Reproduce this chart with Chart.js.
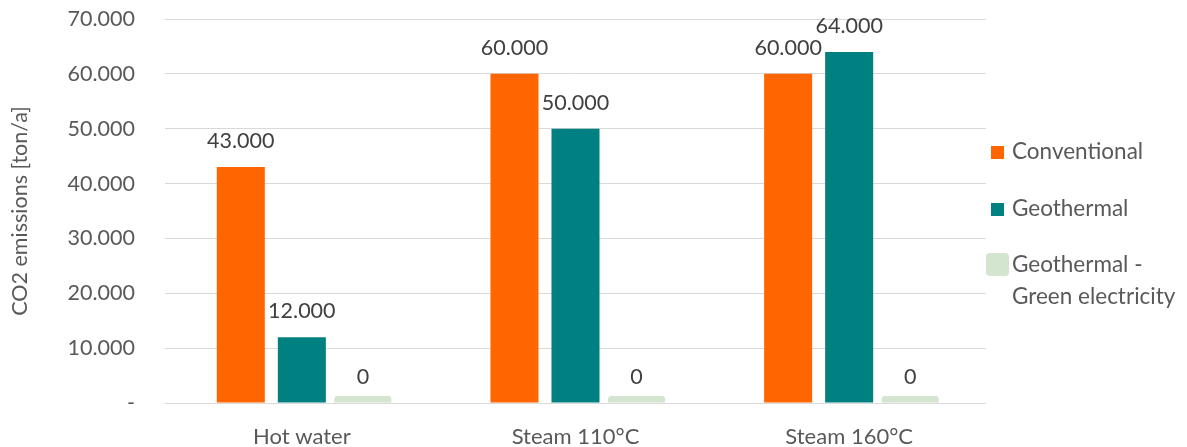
<!DOCTYPE html>
<html>
<head>
<meta charset="utf-8">
<script src="https://cdn.jsdelivr.net/npm/chart.js@4/dist/chart.umd.min.js"></script>
<style>
  html, body { margin: 0; padding: 0; background: #ffffff; }
  #wrap { width: 1187px; height: 447px; position: relative; }
</style>
</head>
<body>
<div id="wrap"><canvas id="chart" width="1187" height="447"></canvas></div>
<script>
// Categories and series (tonnes of CO2 per year)
const categories = ['Hot water', 'Steam 110°C', 'Steam 160°C'];
const seriesNames = ['Conventional', 'Geothermal', 'Geothermal - Green electricity'];
const conventional = [43000, 60000, 60000];
const geothermal = [12000, 50000, 64000];
const geothermalGreen = [0, 0, 0];
const yAxisTitle = 'CO2 emissions [ton/a]';
const yMax = 70000;
const yStep = 10000;

const FONT = 'Lato, "Open Sans", sans-serif';
const colors = ['#FF6600', '#008080', '#D3E4CF'];
const textColor = '#595959';

// Thousands separated with a dot
function fmt(v) {
  return String(Math.round(v)).replace(/\B(?=(\d{3})+(?!\d))/g, '.');
}

// Value labels above every bar
const valueLabels = {
  id: 'valueLabels',
  afterDatasetsDraw(chart) {
    const ctx = chart.ctx;
    const y = chart.scales.y;
    ctx.save();
    ctx.font = '21.5px ' + FONT;
    ctx.fillStyle = '#404040';
    ctx.textAlign = 'center';
    ctx.textBaseline = 'middle';
    chart.data.datasets.forEach((ds, i) => {
      const meta = chart.getDatasetMeta(i);
      meta.data.forEach((bar, j) => {
        const v = ds.data[j];
        ctx.fillText(fmt(v), bar.x, y.getPixelForValue(v) - 26);
      });
    });
    ctx.restore();
  }
};

// Legend on the right, one entry per series
const sideLegend = {
  id: 'sideLegend',
  afterDraw(chart) {
    const ctx = chart.ctx;
    ctx.save();
    ctx.font = '22.5px ' + FONT;
    ctx.textBaseline = 'middle';
    ctx.textAlign = 'left';
    const tx = 1012;
    ctx.fillStyle = colors[0];
    ctx.fillRect(991, 146, 13, 13);
    ctx.fillStyle = textColor;
    ctx.fillText(seriesNames[0], tx, 152);

    ctx.fillStyle = colors[1];
    ctx.fillRect(991, 203, 13, 13);
    ctx.fillStyle = textColor;
    ctx.fillText(seriesNames[1], tx, 209);

    ctx.fillStyle = colors[2];
    ctx.beginPath();
    ctx.roundRect(986, 253, 23, 23, 4);
    ctx.fill();
    ctx.fillStyle = textColor;
    ctx.fillText('Geothermal -', tx, 265);
    ctx.fillText('Green electricity', tx, 297);
    ctx.restore();
  }
};

new Chart(document.getElementById('chart'), {
  type: 'bar',
  data: {
    labels: categories,
    datasets: [
      { label: seriesNames[0], data: conventional, backgroundColor: colors[0],
        barPercentage: 0.787, categoryPercentage: 0.669 },
      { label: seriesNames[1], data: geothermal, backgroundColor: colors[1],
        barPercentage: 0.787, categoryPercentage: 0.669 },
      { label: seriesNames[2], data: geothermalGreen, backgroundColor: colors[2],
        barPercentage: 0.934, categoryPercentage: 0.669,
        minBarLength: 7, borderRadius: { topLeft: 4, topRight: 4 }, borderSkipped: 'start' }
    ]
  },
  options: {
    responsive: false,
    animation: false,
    devicePixelRatio: 1,
    layout: { padding: { top: 19, right: 201, left: 0, bottom: 0 } },
    plugins: {
      legend: { display: false },
      tooltip: { enabled: false }
    },
    scales: {
      x: {
        grid: { display: false, drawTicks: false },
        border: { display: false },
        ticks: { color: textColor, font: { family: FONT, size: 22 }, padding: 21 },
        afterFit(s) { s.height = 44; s.paddingLeft = 0; s.paddingRight = 0; }
      },
      y: {
        min: 0,
        max: yMax,
        ticks: {
          stepSize: yStep,
          color: textColor,
          font: { family: FONT, size: 21.5 },
          padding: 30,
          callback: (v) => (v === 0 ? '-' : fmt(v))
        },
        grid: { color: '#D9D9D9', lineWidth: 1, drawTicks: false },
        border: { display: false },
        title: {
          display: true,
          text: yAxisTitle,
          color: textColor,
          font: { family: FONT, size: 21.5 },
          padding: { top: 7, bottom: 0 }
        },
        afterFit(s) { s.width = 165; s.paddingTop = 0; s.paddingBottom = 0; }
      }
    }
  },
  plugins: [valueLabels, sideLegend]
});
</script>
</body>
</html>
